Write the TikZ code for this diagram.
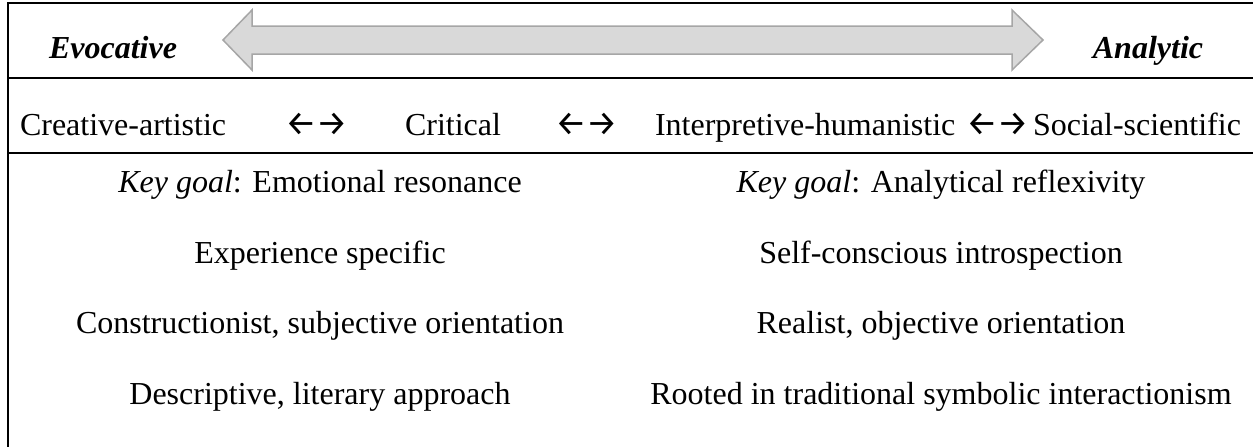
\documentclass[tikz,border=0pt]{standalone}
\usepackage{fontspec}
\setmainfont{Liberation Serif}
\newfontfamily\arrowfont{Fira Sans}
\begin{document}
\begin{tikzpicture}[x=1pt,y=-1pt,
  txt/.style={inner sep=0pt,outer sep=0pt,font=\fontsize{32}{38}\selectfont},
  cell/.style={txt,anchor=base},
  item/.style={txt,anchor=base west},
  twoway/.style={txt,anchor=base west,font=\fontsize{35}{38}\arrowfont},
  pole/.style={txt,anchor=base,font=\fontsize{32}{38}\selectfont\bfseries\itshape},
  rule/.style={line width=2pt,black},
  bigarrow/.style={fill=gray!30,draw=gray!70,line width=1.5pt,line join=miter}]
\useasboundingbox (0,0) rectangle (1253,447);

% table frame
\coordinate (tl) at (8,3);
\coordinate (tr) at (1253,3);
\coordinate (bl) at (8,447);
\coordinate (r1l) at (8,78);
\coordinate (r1r) at (1253,78);
\coordinate (r2l) at (8,153);
\coordinate (r2r) at (1253,153);
\draw[rule] (bl) -- (tl) -- (tr);
\draw[rule] (r1l) -- (r1r);
\draw[rule] (r2l) -- (r2r);

% double-headed continuum arrow
\draw[bigarrow] (223,40) -- (252,10) -- (252,26) -- (1012,26) -- (1012,10)
  -- (1043,40) -- (1012,70) -- (1012,54) -- (252,54) -- (252,70) -- cycle;

% ends of the continuum
\node[pole] (evo) at (113,58) {Evocative};
\node[pole] (ana) at (1148,58) {Analytic};

% the four kinds of writing
\node[item] (crea) at (20,135) {Creative-artistic};
\node[twoway] (a1) at (285,135) {←→};
\node[item] (crit) at (405,135) {Critical};
\node[twoway] (a2) at (555,135) {←→};
\node[item] (interp) at (655,135) {Interpretive-humanistic};
\node[twoway] (a3) at (966,135) {←→};
\node[item] (soc) at (1033,135) {Social-scientific};

% left column
\node[cell] (l1) at (320,192) {\textit{Key goal}: Emotional resonance};
\node[cell] (l2) at (320,263) {Experience specific};
\node[cell] (l3) at (320,333) {Constructionist, subjective orientation};
\node[cell] (l4) at (320,404) {Descriptive, literary approach};

% right column
\node[cell] (r1) at (941,192) {\textit{Key goal}: Analytical reflexivity};
\node[cell] (r2) at (941,263) {Self-conscious introspection};
\node[cell] (r3) at (941,333) {Realist, objective orientation};
\node[cell] (r4) at (941,404) {Rooted in traditional symbolic interactionism};
\end{tikzpicture}
\end{document}
